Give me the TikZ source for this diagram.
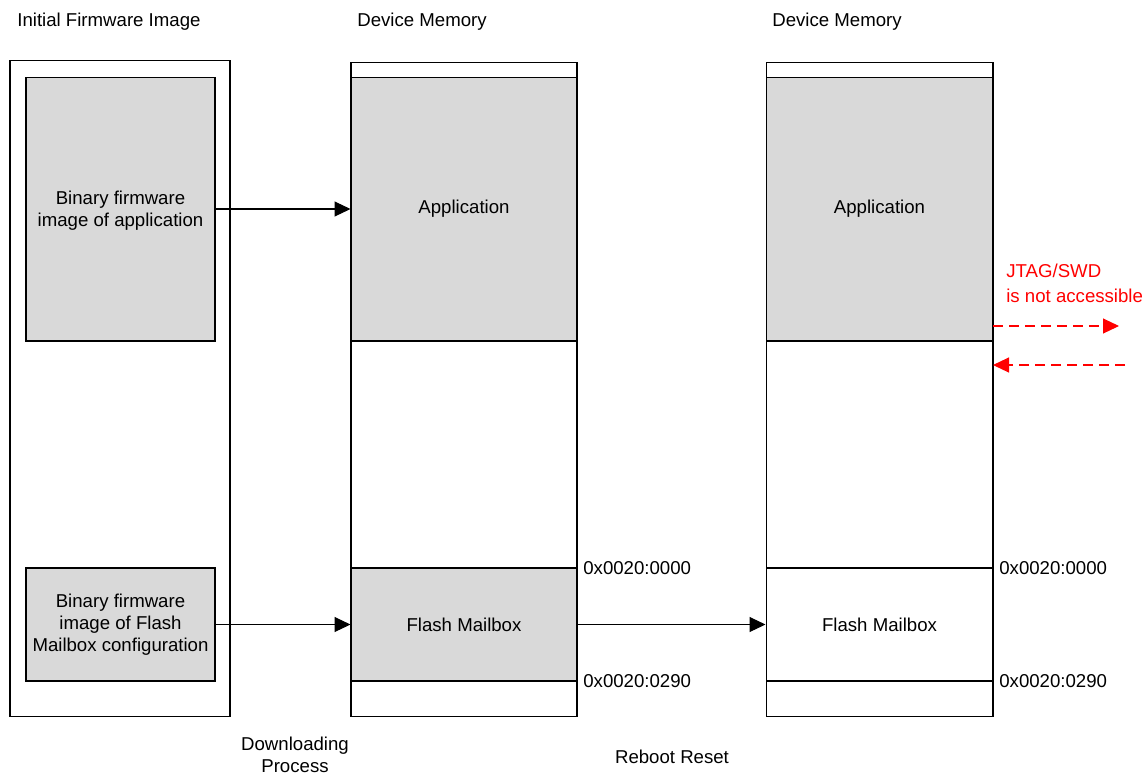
\documentclass[tikz,border=0pt]{standalone}
\usepackage{fontspec}
\setmainfont{Liberation Sans}
\usetikzlibrary{arrows.meta}
\definecolor{blockgray}{HTML}{D9D9D9}
\definecolor{warnred}{HTML}{FF0000}
\begin{document}
\begin{tikzpicture}[x=0.02cm,y=-0.02cm,
  every node/.style={font=\fontsize{10.6}{12.6}\selectfont},
  frame/.style={draw=black, line width=0.6pt, inner sep=0pt, fill=white},
  region/.style={draw=black, line width=0.6pt, inner sep=0pt, align=center},
  shaded/.style={region, fill=blockgray},
  flow/.style={draw=black, line width=0.6pt, -{Triangle[length=0.32cm,width=0.3cm]}},
  jtag/.style={draw=warnred, line width=0.6pt, dash pattern=on 0.2cm off 0.12cm, -{Triangle[length=0.32cm,width=0.3cm]}},
  lbl/.style={inner sep=0pt, anchor=west},
  addr/.style={inner sep=0pt, anchor=west}
]
\useasboundingbox (0,0) rectangle (1146,775);

% source image container and its two binaries
\node[frame, minimum width=4.4cm, minimum height=13.14cm] (src) at (120,388.5) {};
\node[shaded, minimum width=3.78cm, minimum height=5.28cm, text depth=-3pt] (binapp) at (120.5,209)
  {Binary firmware\\image of application};
\node[shaded, minimum width=3.78cm, minimum height=2.26cm] (binmb) at (120.5,624.5)
  {Binary firmware\\image of Flash\\Mailbox configuration};

% device memory after download
\node[frame, minimum width=4.52cm, minimum height=13.1cm] (memA) at (464,389.5) {};
\node[shaded, minimum width=4.52cm, minimum height=5.28cm] (appA) at (464,209) {Application};
\node[shaded, minimum width=4.52cm, minimum height=2.26cm] (mbA) at (464,624.5) {Flash Mailbox};

% device memory after reboot
\node[frame, minimum width=4.54cm, minimum height=13.1cm] (memB) at (879.5,389.5) {};
\node[shaded, minimum width=4.54cm, minimum height=5.28cm] (appB) at (879.5,209) {Application};
\node[region, minimum width=4.54cm, minimum height=2.26cm] (mbB) at (879.5,624.5) {Flash Mailbox};

% headings
\node[lbl] (hsrc) at (17,21.5) {Initial Firmware Image};
\node[lbl] (hA) at (357,21.5) {Device Memory};
\node[lbl] (hB) at (772,21.5) {Device Memory};

% mailbox address bounds
\node[addr] (a0A) at (583,568) {0x0020:0000};
\node[addr] (a1A) at (583,681) {0x0020:0290};
\node[addr] (a0B) at (999,568) {0x0020:0000};
\node[addr] (a1B) at (999,681) {0x0020:0290};

% transfer arrows
\draw[flow] (binapp.east |- appA.west) -- (appA.west);
\draw[flow] (binmb.east) -- (mbA.west);
\draw[flow] (mbA.east) -- (mbB.west);

% step captions
\node[align=center, inner sep=0pt] (dl) at (295,755) {Downloading\\Process};
\node[inner sep=0pt] (rr) at (672,757) {Reboot Reset};

% debug port blocked
\node[lbl, text=warnred, align=left, font=\fontsize{10.6}{14.5}\selectfont] (jt) at (1006,283.5) {JTAG/SWD\\is not accessible};
\coordinate (outS) at (993,326);
\coordinate (outE) at (1119,326);
\coordinate (inS) at (1125,365);
\coordinate (inE) at (993,365);
\draw[jtag] (outS) -- (outE);
\draw[jtag] (inS) -- (inE);
\end{tikzpicture}
\end{document}
